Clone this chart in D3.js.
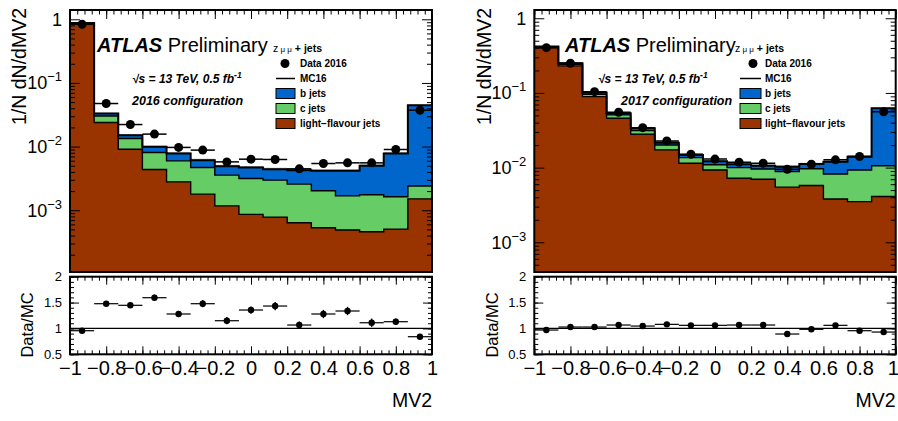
<!DOCTYPE html>
<html>
<head>
<meta charset="utf-8">
<script src="https://cdn.jsdelivr.net/npm/d3@7"></script>
<style>
  body { margin: 0; background: #fff; }
  svg text { font-family: "Liberation Sans", Arial, Helvetica, sans-serif; }
</style>
</head>
<body>
<svg id="chart" width="898" height="421"></svg>
<script>
// MV2 bins: 15 equal bins over [-1, 1]
const nBins = 15;
const xTicks = [-1, -0.8, -0.6, -0.4, -0.2, 0, 0.2, 0.4, 0.6, 0.8, 1];
const ratioTicks = [0.5, 1, 1.5, 2];

// 2016 configuration (left)
const light16 = [0.862, 0.0239, 0.0091, 0.00436, 0.00279, 0.00179, 0.00117, 0.00086, 0.00078, 0.000634, 0.00053, 0.00049, 0.00046, 0.000505, 0.00151];
const c16     = [0.006, 0.0064, 0.0043, 0.00371, 0.00318, 0.00291, 0.00239, 0.0023, 0.00219, 0.00194, 0.00149, 0.00119, 0.00129, 0.00112, 0.00089];
const b16     = [0.008, 0.0027, 0.0017, 0.00183, 0.00181, 0.00142, 0.00136, 0.00154, 0.00145, 0.00169, 0.00214, 0.00248, 0.00324, 0.00618, 0.0423];
const data16  = [0.835, 0.0475, 0.0222, 0.0157, 0.0097, 0.0088, 0.00575, 0.00634, 0.00627, 0.00447, 0.00542, 0.00555, 0.00555, 0.009, 0.0373];
const ratio16 = [0.956, 1.478, 1.447, 1.594, 1.279, 1.478, 1.149, 1.356, 1.433, 1.066, 1.279, 1.337, 1.11, 1.13, 0.84];
const ratioErr16 = [0.02, 0.03, 0.04, 0.06, 0.06, 0.07, 0.07, 0.07, 0.08, 0.07, 0.08, 0.08, 0.08, 0.06, 0.02];
const mcUnc16 = [0.01, 0.03, 0.04, 0.04, 0.05, 0.05, 0.05, 0.05, 0.05, 0.05, 0.05, 0.05, 0.05, 0.04, 0.02];

// 2017 configuration (right)
const light17 = [0.404, 0.230, 0.0892, 0.0458, 0.028, 0.0173, 0.01145, 0.0093, 0.0072, 0.0070, 0.00547, 0.00575, 0.0038, 0.0035, 0.0041];
const c17     = [0.008, 0.012, 0.0068, 0.005, 0.0033, 0.0028, 0.00215, 0.0016, 0.0028, 0.0026, 0.0034, 0.0039, 0.0044, 0.0058, 0.0065];
const b17     = [0.005, 0.008, 0.005, 0.0027, 0.0024, 0.0015, 0.0012, 0.0013, 0.0011, 0.0010, 0.0014, 0.0015, 0.0038, 0.0047, 0.0518];
const data17  = [0.404, 0.25, 0.104, 0.0552, 0.0343, 0.0228, 0.0151, 0.013, 0.0118, 0.01145, 0.0095, 0.0111, 0.0127, 0.0141, 0.056];
const ratio17 = [0.969, 1.027, 1.027, 1.066, 1.046, 1.079, 1.06, 1.06, 1.066, 1.066, 0.892, 0.983, 1.06, 0.956, 0.93];
const ratioErr17 = [0.005, 0.01, 0.01, 0.015, 0.015, 0.02, 0.02, 0.02, 0.02, 0.02, 0.02, 0.02, 0.02, 0.02, 0.01];
const mcUnc17 = [0.01, 0.02, 0.03, 0.03, 0.04, 0.04, 0.04, 0.04, 0.04, 0.04, 0.04, 0.04, 0.04, 0.04, 0.02];

const colors = { light: "#993300", c: "#66cc66", b: "#0066cc" };
const legendItems = [
  { key: "data", label: "Data 2016" },
  { key: "mc", label: "MC16" },
  { key: "b", label: "b jets" },
  { key: "c", label: "c jets" },
  { key: "light", label: "light\u2212flavour jets" }
];

const svg = d3.select("#chart");
const UP_TOP = 10, UP_BOT = 272, R_TOP = 276.7, R_BOT = 354.3;

function drawPanel(cfg) {
  const g = svg.append("g");
  const edges = d3.range(nBins + 1).map(i => -1 + 2 * i / nBins);
  const x = d3.scaleLinear().domain([-1, 1]).range([cfg.x0, cfg.x1]);
  const y = d3.scaleLog().domain(cfg.yDomain).range([UP_BOT, UP_TOP]);
  const yr = d3.scaleLinear().domain([0.5, 2]).range([R_BOT, R_TOP]);

  // stacked tops: light, light+c, light+c+b
  const tops = d3.range(nBins).map(i => {
    const l = cfg.light[i], c = l + cfg.c[i], b = c + cfg.b[i];
    return { i, l, c, b };
  });

  const stepArea = key => {
    let p = "M" + x(-1) + "," + UP_BOT;
    tops.forEach(t => {
      p += "L" + x(edges[t.i]) + "," + y(t[key]) + "L" + x(edges[t.i + 1]) + "," + y(t[key]);
    });
    return p + "L" + x(1) + "," + UP_BOT + "Z";
  };
  const stepLine = key => {
    let p = "";
    tops.forEach(t => {
      p += (t.i === 0 ? "M" : "L") + x(edges[t.i]) + "," + y(t[key]) + "L" + x(edges[t.i + 1]) + "," + y(t[key]);
    });
    return p;
  };

  g.append("clipPath").attr("id", "clip" + cfg.id)
    .append("rect").attr("x", cfg.x0).attr("y", UP_TOP).attr("width", cfg.x1 - cfg.x0).attr("height", UP_BOT - UP_TOP);
  const up = g.append("g").attr("clip-path", `url(#clip${cfg.id})`);

  // MC stat band (grey), sits under the stack
  up.selectAll("rect.unc").data(tops).enter().append("rect")
    .attr("class", "unc")
    .attr("x", d => x(edges[d.i])).attr("width", d => x(edges[d.i + 1]) - x(edges[d.i]))
    .attr("y", d => y(d.b * (1 + cfg.unc[d.i])))
    .attr("height", d => y(d.b * (1 - cfg.unc[d.i])) - y(d.b * (1 + cfg.unc[d.i])))
    .attr("fill", "#9a9a9a");

  [["b", colors.b], ["c", colors.c], ["l", colors.light]].forEach(([k, col]) => {
    up.append("path").attr("d", stepArea(k)).attr("fill", col).attr("stroke", "none");
  });
  ["l", "c"].forEach(k => {
    up.append("path").attr("d", stepLine(k)).attr("fill", "none").attr("stroke", "#000").attr("stroke-width", 1.4);
  });
  up.append("path").attr("d", stepLine("b")).attr("fill", "none").attr("stroke", "#000").attr("stroke-width", 2);

  // data points, upper pad
  const pts = d3.range(nBins).map(i => ({ i, xc: (edges[i] + edges[i + 1]) / 2, v: cfg.data[i] }));
  up.selectAll("line.dx").data(pts).enter().append("line")
    .attr("x1", d => x(edges[d.i])).attr("x2", d => x(edges[d.i + 1]))
    .attr("y1", d => y(d.v)).attr("y2", d => y(d.v))
    .attr("stroke", "#000").attr("stroke-width", 1.5);
  up.selectAll("line.dy").data(pts).enter().append("line")
    .attr("x1", d => x(d.xc)).attr("x2", d => x(d.xc))
    .attr("y1", d => y(d.v * 1.06)).attr("y2", d => y(d.v * 0.94))
    .attr("stroke", "#000").attr("stroke-width", 1.5);
  up.selectAll("circle").data(pts).enter().append("circle")
    .attr("cx", d => x(d.xc)).attr("cy", d => y(d.v)).attr("r", 4.5).attr("fill", "#000");

  // ratio pad
  const rp = d3.range(nBins).map(i => ({ i, xc: (edges[i] + edges[i + 1]) / 2, v: cfg.ratio[i], e: cfg.ratioErr[i] }));
  g.append("line").attr("x1", x(-1)).attr("x2", x(1)).attr("y1", yr(1)).attr("y2", yr(1))
    .attr("stroke", "#000").attr("stroke-width", 1.2);
  g.selectAll("line.rx").data(rp).enter().append("line")
    .attr("x1", d => x(edges[d.i])).attr("x2", d => x(edges[d.i + 1]))
    .attr("y1", d => yr(d.v)).attr("y2", d => yr(d.v))
    .attr("stroke", "#000").attr("stroke-width", 1.2);
  g.selectAll("line.ry").data(rp).enter().append("line")
    .attr("x1", d => x(d.xc)).attr("x2", d => x(d.xc))
    .attr("y1", d => yr(d.v + d.e)).attr("y2", d => yr(d.v - d.e))
    .attr("stroke", "#000").attr("stroke-width", 1.4);
  g.selectAll("circle.rc").data(rp).enter().append("circle")
    .attr("cx", d => x(d.xc)).attr("cy", d => yr(d.v)).attr("r", 3.2).attr("fill", "#000");

  // ---- axes (inward ticks, ROOT style) ----
  const minorX = d3.range(51).map(i => -1 + i * 0.04);
  const tickStyle = s => s.call(a => a.select(".domain").remove())
    .selectAll("line").attr("stroke", "#000").attr("stroke-width", 1);

  // top of upper pad
  g.append("g").attr("transform", `translate(0,${UP_TOP})`)
    .call(d3.axisTop(x).tickValues(minorX).tickSize(-4.5).tickFormat("")).call(tickStyle);
  g.append("g").attr("transform", `translate(0,${UP_TOP})`)
    .call(d3.axisTop(x).tickValues(xTicks).tickSize(-9).tickFormat("")).call(tickStyle);
  // ratio pad top and bottom
  g.append("g").attr("transform", `translate(0,${R_TOP})`)
    .call(d3.axisTop(x).tickValues(minorX).tickSize(-4).tickFormat("")).call(tickStyle);
  g.append("g").attr("transform", `translate(0,${R_TOP})`)
    .call(d3.axisTop(x).tickValues(xTicks).tickSize(-8).tickFormat("")).call(tickStyle);
  g.append("g").attr("transform", `translate(0,${R_BOT})`)
    .call(d3.axisBottom(x).tickValues(minorX).tickSize(-4).tickFormat("")).call(tickStyle);
  const xb = g.append("g").attr("transform", `translate(0,${R_BOT})`)
    .call(d3.axisBottom(x).tickValues(xTicks).tickSize(-8).tickPadding(0)
      .tickFormat(d => d3.format("")(d).replace("-", "\u2212")));
  xb.call(tickStyle);
  xb.selectAll("text").attr("font-size", 20).attr("fill", "#000").attr("dy", null).attr("y", 21);
  // keep the last label inside the window
  xb.selectAll("text").filter(d => d === 1).attr("dx", cfg.lastDx);

  // upper y axis (log)
  const yAll = y.ticks().filter(v => v >= cfg.yDomain[0] && v <= cfg.yDomain[1]);
  const isMajor = v => Math.abs(Math.log10(v) - Math.round(Math.log10(v))) < 1e-6;
  const yMaj = yAll.filter(isMajor), yMin = yAll.filter(v => !isMajor(v));
  [[d3.axisLeft, cfg.x0], [d3.axisRight, cfg.x1]].forEach(([ax, px]) => {
    g.append("g").attr("transform", `translate(${px},0)`)
      .call(ax(y).tickValues(yMin).tickSize(-5).tickFormat("")).call(tickStyle);
    g.append("g").attr("transform", `translate(${px},0)`)
      .call(ax(y).tickValues(yMaj).tickSize(-10).tickFormat("")).call(tickStyle);
  });
  yMaj.forEach(v => {
    const e = Math.round(Math.log10(v));
    const t = g.append("text").attr("x", cfg.x0 - 8).attr("y", y(v) + 6.5)
      .attr("text-anchor", "end").attr("font-size", 18);
    if (e === 0) { t.text("1"); }
    else {
      t.append("tspan").text("10");
      t.append("tspan").attr("font-size", 13).attr("dy", -8).text("\u2212" + (-e));
    }
  });

  // ratio y axis
  const rMinor = d3.range(0.5, 2.001, 0.1);
  [[d3.axisLeft, cfg.x0], [d3.axisRight, cfg.x1]].forEach(([ax, px]) => {
    g.append("g").attr("transform", `translate(${px},0)`)
      .call(ax(yr).tickValues(rMinor).tickSize(-4).tickFormat("")).call(tickStyle);
    g.append("g").attr("transform", `translate(${px},0)`)
      .call(ax(yr).tickValues(ratioTicks).tickSize(-9).tickFormat("")).call(tickStyle);
  });
  g.selectAll("text.rl").data(ratioTicks).enter().append("text")
    .attr("x", cfg.x0 - 8).attr("y", d => yr(d) + 4.6).attr("text-anchor", "end")
    .attr("font-size", 13).text(d => d);

  // frames
  g.append("rect").attr("x", cfg.x0).attr("y", UP_TOP).attr("width", cfg.x1 - cfg.x0).attr("height", UP_BOT - UP_TOP)
    .attr("fill", "none").attr("stroke", "#000").attr("stroke-width", 2);
  g.append("rect").attr("x", cfg.x0).attr("y", R_TOP).attr("width", cfg.x1 - cfg.x0).attr("height", R_BOT - R_TOP)
    .attr("fill", "none").attr("stroke", "#000").attr("stroke-width", 2);

  // titles
  g.append("text").attr("transform", `translate(${cfg.yTitleX},8) rotate(-90)`)
    .attr("text-anchor", "end").attr("font-size", 19.5).text("1/N dN/dMV2");
  g.append("text").attr("transform", `translate(${cfg.rTitleX},325) rotate(-90)`)
    .attr("text-anchor", "middle").attr("font-size", 16.5).text("Data/MC");
  g.append("text").attr("x", cfg.x1).attr("y", 407).attr("text-anchor", "end")
    .attr("font-size", 19.5).text("MV2");

  // ATLAS label
  const at = g.append("text").attr("x", cfg.atlasX).attr("y", 52).attr("font-size", 20);
  at.append("tspan").attr("font-weight", "bold").attr("font-style", "italic").text("ATLAS");
  at.append("tspan").text(" Preliminary");
  const zt = g.append("text").attr("x", cfg.zX).attr("y", 52).attr("font-size", 10.5).attr("font-weight", "bold");
  zt.append("tspan").attr("font-weight", "normal").text("z");
  zt.append("tspan").attr("font-size", 8).attr("font-weight", "normal").text(" \u03bc \u03bc");
  zt.append("tspan").text("  + jets");

  const en = g.append("text").attr("x", cfg.sqrtX).attr("y", 83).attr("font-size", 12)
    .attr("font-weight", "bold").attr("font-style", "italic");
  en.append("tspan").text("\u221as  = 13 TeV, 0.5 fb");
  en.append("tspan").attr("font-size", 8.5).attr("dy", -5).text("-1");
  g.append("text").attr("x", cfg.confX).attr("y", 105).attr("font-size", 12.5)
    .attr("font-weight", "bold").attr("font-style", "italic").text(cfg.conf);

  // legend
  const lg = g.append("g");
  legendItems.forEach((it, k) => {
    const cy = 63.5 + k * 15;
    if (it.key === "data") {
      lg.append("circle").attr("cx", cfg.legMarkX).attr("cy", cy).attr("r", 4.5).attr("fill", "#000");
    } else if (it.key === "mc") {
      lg.append("line").attr("x1", cfg.legX).attr("x2", cfg.legX + cfg.legW).attr("y1", cy).attr("y2", cy)
        .attr("stroke", "#000").attr("stroke-width", 1.5);
    } else {
      lg.append("rect").attr("x", cfg.legX).attr("y", cy - 5).attr("width", cfg.legW).attr("height", 10)
        .attr("fill", colors[it.key]).attr("stroke", "#000").attr("stroke-width", 1);
    }
    lg.append("text").attr("x", cfg.legTextX).attr("y", cy + 3.6).attr("font-size", 10)
      .attr("font-weight", "bold").text(it.label);
  });
}

drawPanel({
  id: "L", x0: 70, x1: 432, yDomain: [1.07e-4, 1.4], lastDx: 0,
  light: light16, c: c16, b: b16, data: data16, ratio: ratio16, ratioErr: ratioErr16, unc: mcUnc16,
  yTitleX: 26, rTitleX: 33, atlasX: 97, zX: 273, sqrtX: 132, confX: 132, conf: "2016 configuration",
  legX: 276, legW: 19, legMarkX: 285, legTextX: 300
});
drawPanel({
  id: "R", x0: 534.3, x1: 895.7, yDomain: [4.0e-4, 1.29], lastDx: -3,
  light: light17, c: c17, b: b17, data: data17, ratio: ratio17, ratioErr: ratioErr17, unc: mcUnc17,
  yTitleX: 491, rTitleX: 498, atlasX: 565, zX: 735, sqrtX: 598, confX: 621, conf: "2017 configuration",
  legX: 740, legW: 21, legMarkX: 753, legTextX: 765
});
</script>
</body>
</html>
